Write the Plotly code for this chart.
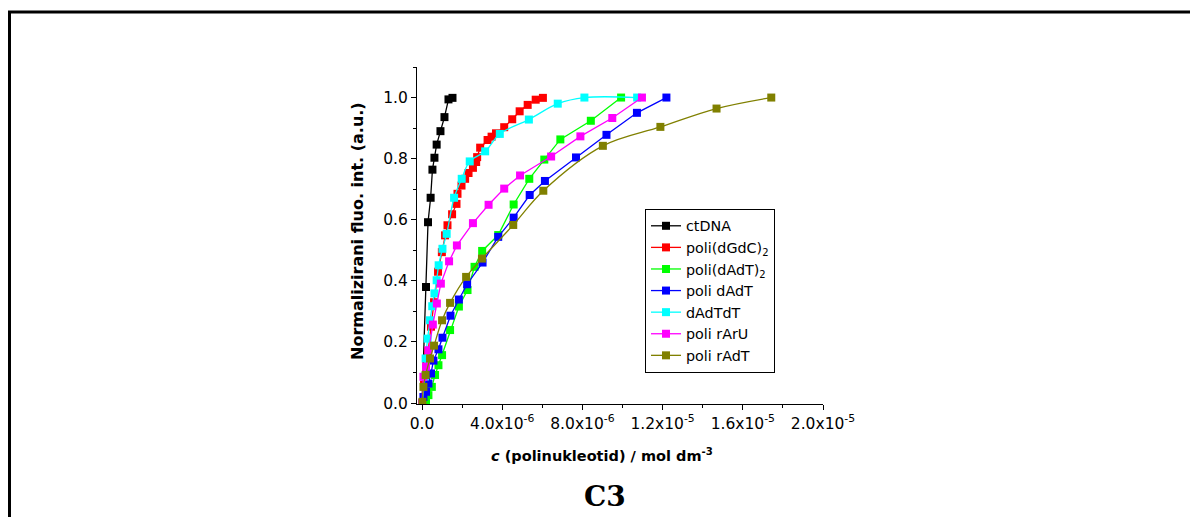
import plotly.graph_objects as go

# ---- data (x in mol dm^-3, y normalized) ----
ctdna_x = [0.0, 0.2e-6, 0.3e-6, 0.43e-6, 0.52e-6, 0.62e-6, 0.73e-6, 0.92e-6, 1.12e-6, 1.32e-6, 1.52e-6]
ctdna_y = [0.0, 0.38, 0.592, 0.672, 0.764, 0.803, 0.846, 0.890, 0.936, 0.994, 0.999]

gdc_x = [0.0, 0.1e-6, 0.2e-6, 0.3e-6, 0.45e-6, 0.6e-6, 0.8e-6, 0.99e-6, 1.15e-6, 1.27e-6, 1.5e-6, 1.72e-6,
         1.77e-6, 1.97e-6, 2.15e-6, 2.32e-6, 2.54e-6, 2.7e-6, 2.75e-6, 2.9e-6, 3.27e-6, 3.47e-6, 3.69e-6,
         4.1e-6, 4.5e-6, 4.87e-6, 5.27e-6, 5.67e-6, 6.03e-6]
gdc_y = [0.0, 0.06, 0.12, 0.17, 0.25, 0.33, 0.43, 0.494, 0.549, 0.582, 0.618, 0.652,
         0.685, 0.712, 0.734, 0.753, 0.770, 0.789, 0.805, 0.836, 0.861, 0.872, 0.883,
         0.903, 0.929, 0.955, 0.976, 0.993, 0.999]

dadt2_x = [0.0, 0.2e-6, 0.32e-6, 0.49e-6, 0.65e-6, 0.82e-6, 1.0e-6, 1.4e-6, 1.84e-6, 2.27e-6, 2.62e-6,
           3.0e-6, 3.8e-6, 4.57e-6, 5.35e-6, 6.1e-6, 6.9e-6, 8.42e-6, 9.93e-6]
dadt2_y = [0.0, 0.01, 0.026, 0.053, 0.092, 0.124, 0.157, 0.239, 0.316, 0.370, 0.446,
           0.498, 0.55, 0.650, 0.734, 0.797, 0.863, 0.924, 1.0]

dadt_x = [0.0, 0.07e-6, 0.2e-6, 0.32e-6, 0.45e-6, 0.57e-6, 0.82e-6, 1.02e-6, 1.42e-6, 1.84e-6, 2.25e-6,
          3.02e-6, 3.8e-6, 4.57e-6, 5.37e-6, 6.13e-6, 7.68e-6, 9.2e-6, 10.72e-6, 12.19e-6]
dadt_y = [0.0, 0.02, 0.037, 0.064, 0.097, 0.139, 0.176, 0.214, 0.286, 0.339, 0.389,
          0.460, 0.544, 0.607, 0.681, 0.727, 0.804, 0.878, 0.950, 1.0]

dadtdt_x = [0.0, 0.15e-6, 0.18e-6, 0.28e-6, 0.4e-6, 0.51e-6, 0.62e-6, 0.73e-6, 0.83e-6, 1.02e-6, 1.23e-6,
            1.6e-6, 1.98e-6, 2.38e-6, 3.15e-6, 3.88e-6, 5.33e-6, 6.77e-6, 8.1e-6, 10.73e-6]
dadtdt_y = [0.0, 0.087, 0.146, 0.211, 0.271, 0.317, 0.359, 0.402, 0.451, 0.505, 0.554,
            0.672, 0.734, 0.791, 0.824, 0.881, 0.928, 0.980, 1.0, 1.0]

rarU_x = [0.0, 0.07e-6, 0.2e-6, 0.32e-6, 0.54e-6, 0.74e-6, 0.94e-6, 1.35e-6, 1.74e-6, 2.54e-6, 3.32e-6,
          4.1e-6, 4.89e-6, 6.44e-6, 7.9e-6, 9.49e-6, 10.97e-6]
rarU_y = [0.0, 0.086, 0.119, 0.173, 0.257, 0.326, 0.391, 0.464, 0.516, 0.589, 0.649,
          0.702, 0.745, 0.807, 0.873, 0.933, 1.0]

radt_x = [0.02e-6, 0.07e-6, 0.18e-6, 0.4e-6, 0.6e-6, 1.0e-6, 1.4e-6, 2.2e-6, 2.99e-6, 4.55e-6, 6.05e-6,
          9.02e-6, 11.89e-6, 14.69e-6, 17.42e-6]
radt_y = [0.004, 0.053, 0.092, 0.146, 0.188, 0.271, 0.328, 0.413, 0.473, 0.583, 0.695,
          0.842, 0.904, 0.964, 1.0]

x_tickvals = [0.0, 4e-6, 8e-6, 1.2e-5, 1.6e-5, 2.0e-5]
x_ticktext = ["0.0", "4.0x10<sup>-6</sup>", "8.0x10<sup>-6</sup>", "1.2x10<sup>-5</sup>",
              "1.6x10<sup>-5</sup>", "2.0x10<sup>-5</sup>"]
y_tickvals = [0.0, 0.2, 0.4, 0.6, 0.8, 1.0]
y_ticktext = ["0.0", "0.2", "0.4", "0.6", "0.8", "1.0"]

series = [
    ("ctDNA", ctdna_x, ctdna_y, "#000000", "linear"),
    ("poli(dGdC)<sub>2</sub>", gdc_x, gdc_y, "#FF0000", "linear"),
    ("poli(dAdT)<sub>2</sub>", dadt2_x, dadt2_y, "#00FF00", "linear"),
    ("poli dAdT", dadt_x, dadt_y, "#0000FF", "linear"),
    ("dAdTdT", dadtdt_x, dadtdt_y, "#00FFFF", "spline"),
    ("poli rArU", rarU_x, rarU_y, "#FF00FF", "linear"),
    ("poli rAdT", radt_x, radt_y, "#808000", "spline"),
]

FONT = "DejaVu Sans, Liberation Sans, Arial, sans-serif"

fig = go.Figure()
for name, xs, ys, col, shape in series:
    fig.add_trace(go.Scatter(
        x=xs, y=ys, name=name, mode="lines+markers",
        line=dict(color=col, width=1.3, shape=shape),
        marker=dict(symbol="square", size=8, color=col),
    ))

OFF = 8  # browser body margin
W, H = 1198 - OFF, 517 - OFF
L, T = 417 - OFF, 67 - OFF
pw, ph = 406, 337
R, B = W - L - pw, H - T - ph

def px2paper(px, py):
    # page pixel -> paper coordinates
    return (px - OFF - L) / pw, (T + ph - (py - OFF)) / ph

fx0, fy0 = px2paper(9.5, 12)
fx1, fy1 = px2paper(1240, 570)

lgx, lgy = px2paper(645, 209)

fig.update_layout(
    width=W, height=H,
    margin=dict(l=L, r=R, t=T, b=B),
    plot_bgcolor="white", paper_bgcolor="white",
    font=dict(family=FONT, color="black", size=15),
    showlegend=True,
    legend=dict(
        x=lgx, y=lgy, xanchor="left", yanchor="top",
        bordercolor="black", borderwidth=1, bgcolor="white",
        font=dict(family=FONT, size=14.3, color="black"),
        tracegroupgap=0, itemwidth=30,
    ),
    xaxis=dict(
        range=[-0.25e-6, 2.0e-5], showgrid=False, zeroline=False,
        showline=True, linecolor="black", linewidth=1,
        ticks="outside", ticklen=5, tickwidth=1, tickcolor="black",
        tickmode="array", tickvals=x_tickvals, ticktext=x_ticktext,
        tickfont=dict(family=FONT, size=15.5),
        minor=dict(ticks="outside", ticklen=3, tickwidth=1, tickcolor="black",
                   tickmode="linear", tick0=0, dtick=2e-6),
    ),
    yaxis=dict(
        range=[-0.003, 1.1], showgrid=False, zeroline=False,
        showline=True, linecolor="black", linewidth=1,
        ticks="outside", ticklen=5, tickwidth=1, tickcolor="black",
        tickmode="array", tickvals=y_tickvals, ticktext=y_ticktext,
        tickfont=dict(family=FONT, size=15.5),
        minor=dict(ticks="outside", ticklen=3, tickwidth=1, tickcolor="black",
                   tickmode="linear", tick0=0, dtick=0.1),
    ),
    shapes=[dict(type="rect", xref="paper", yref="paper",
                 x0=fx0, y0=fy1, x1=fx1, y1=fy0,
                 line=dict(color="black", width=3), fillcolor="rgba(0,0,0,0)", layer="below")],
)

ytx, yty = px2paper(357, 231)
xtx, xty = px2paper(602, 455)
c3x, c3y = px2paper(605, 497)
fig.add_annotation(x=ytx, y=yty, xref="paper", yref="paper", textangle=-90,
                   text="<b>Normalizirani fluo. int. (a.u.)</b>", showarrow=False,
                   font=dict(family=FONT, size=16, color="black"), xanchor="center", yanchor="middle")
fig.add_annotation(x=xtx, y=xty, xref="paper", yref="paper",
                   text="<b><i>c</i> (polinukleotid) / mol dm<sup>-3</sup></b>", showarrow=False,
                   font=dict(family=FONT, size=14.5, color="black"), xanchor="center", yanchor="middle")
fig.add_annotation(x=c3x, y=c3y, xref="paper", yref="paper",
                   text="<b>C3</b>", showarrow=False,
                   font=dict(family="DejaVu Serif, Liberation Serif, serif", size=28, color="black"),
                   xanchor="center", yanchor="middle")

fig.write_html("out.html")
